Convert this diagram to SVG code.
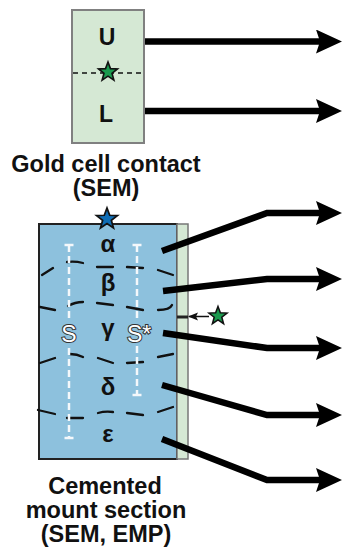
<svg xmlns="http://www.w3.org/2000/svg" width="345" height="552" viewBox="0 0 345 552">
<style>
.lbl{font-family:"Liberation Sans",Arial,sans-serif;font-weight:bold;fill:#111;text-anchor:middle}
.title{font-size:23.5px}
.greek{font-size:24px}
.s{font-family:"Liberation Sans",Arial,sans-serif;font-size:23px;fill:#fff;stroke:#333;stroke-width:2;paint-order:stroke}
.conn{fill:none;stroke:#000;stroke-width:6.5;stroke-linejoin:miter;marker-end:url(#head)}
.bnd{fill:none;stroke:#111;stroke-width:2.3;stroke-linecap:round}
.wd{fill:none;stroke:#f4f8fb;stroke-width:2.5;stroke-dasharray:7 4}
.wc{fill:none;stroke:#f4f8fb;stroke-width:2.5}
.star{stroke:#111;stroke-width:1.6;stroke-linejoin:miter}
</style>
<defs>
<marker id="head" markerUnits="userSpaceOnUse" viewBox="0 0 26 24" markerWidth="26" markerHeight="24" refX="4" refY="12" orient="auto">
<path d="M0,0 L26,12 L0,24 L4,12 Z" fill="#000"/>
</marker>
<marker id="small" markerUnits="userSpaceOnUse" viewBox="0 0 10 10" markerWidth="10" markerHeight="10" refX="9" refY="5" orient="auto">
<path d="M0,1 L10,5 L0,9 L2,5 Z" fill="#111"/>
</marker>
<path id="starShape" d="M0,-10 L2.47,-3.4 L9.51,-3.09 L3.99,1.3 L5.88,8.09 L0,4.2 L-5.88,8.09 L-3.99,1.3 L-9.51,-3.09 L-2.47,-3.4 Z"/>
</defs>

<g id="node-gold">
<rect x="72" y="10" width="72" height="133" fill="#d5e8d4" stroke="#808080" stroke-width="2"/>
<line x1="73" y1="73" x2="143" y2="73" stroke="#111" stroke-width="1.5" stroke-dasharray="5 4"/>
<text class="lbl" x="107" y="45" font-size="23">U</text>
<text class="lbl" x="106" y="122" font-size="23">L</text>
<use href="#starShape" class="star" fill="#1a9a4e" transform="translate(108,72)"/>
<text class="lbl title" x="106" y="172">Gold cell contact</text>
<text class="lbl title" x="106" y="196">(SEM)</text>
</g>

<g id="node-mount">
<rect x="39" y="224" width="138" height="235" fill="#8dc1dd" stroke="#222" stroke-width="2"/>
<rect x="177" y="224" width="11" height="235" fill="#d5e8d4" stroke="#777" stroke-width="1.5"/>
<line x1="177" y1="317" x2="188" y2="317" stroke="#222" stroke-width="3"/>
<g id="boundaries">
<path class="bnd" d="M42,275 L53,268 M67,262 Q75,261 83,263 M97,267 L113,267 M127,267 L143,268 M158,270 L173,275"/>
<path class="bnd" d="M40,307 L55,310 M68,306 Q75,302 83,302 M97,303 L113,305 M127,307 L143,310 M158,310 Q170,310 172,305"/>
<path class="bnd" d="M40,363 L55,358 M70,354 Q77,354 83,357 M98,358 L113,363 M127,363 L143,362 M158,357 L173,354"/>
<path class="bnd" d="M38,410 L55,414 M67,418 L83,418 M98,413 Q105,411 113,412 M127,413 L143,415 M158,412 L173,407"/>
</g>
<g id="spots">
<path class="wd" d="M69,245 V320 M69,348 V438"/>
<path class="wc" d="M64.5,245 H73.5 M64.5,438 H73.5"/>
<path class="wd" d="M137,245 V320 M137,346 V395"/>
<path class="wc" d="M132.5,245 H141.5 M132.5,395 H141.5"/>
<text class="s" x="69" y="342" text-anchor="middle">S</text>
<text class="s" x="127" y="342">S*</text>
</g>
<text class="lbl greek" x="108" y="252">α</text>
<text class="lbl greek" x="108" y="291">β</text>
<text class="lbl greek" x="108" y="336">γ</text>
<text class="lbl greek" x="108" y="395">δ</text>
<text class="lbl greek" x="108" y="442">ε</text>
<use href="#starShape" class="star" fill="#0f6db5" transform="translate(107,219) scale(1.1)"/>
<use href="#starShape" class="star" fill="#1a9a4e" transform="translate(218,316) scale(0.95)"/>
<text class="lbl title" x="105" y="494">Cemented</text>
<text class="lbl title" x="106" y="518">mount section</text>
<text class="lbl title" x="106" y="542">(SEM, EMP)</text>
</g>

<g id="connectors">
<path class="conn" d="M145,41.5 H320"/>
<path class="conn" d="M145,111 H320"/>
<path class="conn" d="M162,251 L267,213 H320"/>
<path class="conn" d="M163,291 L267,279 H320"/>
<path class="conn" d="M163,333 L267,348 H320"/>
<path class="conn" d="M162,385 L267,415 H320"/>
<path class="conn" d="M162,439 L267,480 H320"/>
<path d="M209,316.5 H189" fill="none" stroke="#111" stroke-width="1.5" marker-end="url(#small)"/>
</g>
</svg>
